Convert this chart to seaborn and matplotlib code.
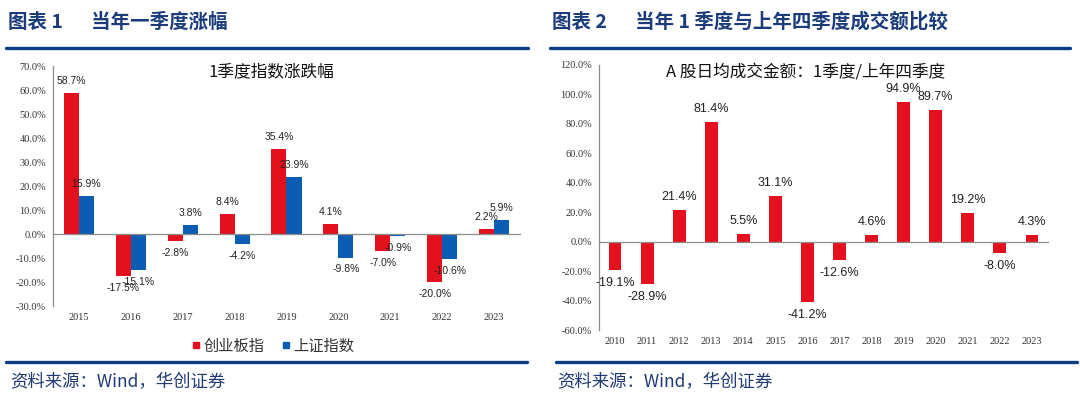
import matplotlib
matplotlib.use("Agg")
import matplotlib.pyplot as plt
import matplotlib.transforms as mtransforms
from matplotlib.lines import Line2D
from matplotlib.ticker import FuncFormatter
import numpy as np
import pandas as pd
import seaborn as sns

# 图表1: 当年一季度涨幅 (%)
years_left = ["2015", "2016", "2017", "2018", "2019", "2020", "2021", "2022", "2023"]
chinext = [58.7, -17.5, -2.8, 8.4, 35.4, 4.1, -7.0, -20.0, 2.2]
shanghai = [15.9, -15.1, 3.8, -4.2, 23.9, -9.8, -0.9, -10.6, 5.9]
series_names = ["创业板指", "上证指数"]

# 图表2: A股日均成交金额 1季度/上年四季度 (%)
years_right = ["2010", "2011", "2012", "2013", "2014", "2015", "2016",
               "2017", "2018", "2019", "2020", "2021", "2022", "2023"]
turnover_ratio = [-19.1, -28.9, 21.4, 81.4, 5.5, 31.1, -41.2,
                  -12.6, 4.6, 94.9, 89.7, 19.2, -8.0, 4.3]

RED = "#E3111D"
BLUE = "#0B5CB3"
NAVY = "#1a3c7c"
LINE = "#0c3c84"
W, H = 1080, 398

sns.set_theme(style="white")
plt.rcParams["font.family"] = ["Noto Sans CJK SC", "DejaVu Sans"]
plt.rcParams["axes.unicode_minus"] = False

fig = plt.figure(figsize=(W / 100, H / 100), dpi=100)


def px_axes(x0, y0, x1, y1):
    # pixel box (top-left origin) -> figure axes
    return fig.add_axes([x0 / W, 1 - y1 / H, (x1 - x0) / W, (y1 - y0) / H])


def style_axis(ax, cats, ylim, step, label_off):
    ax.set_ylim(*ylim)
    ax.set_xlim(-0.5, len(cats) - 0.5)
    ax.set_yticks(np.arange(ylim[0], ylim[1] + 0.1, step))
    ax.yaxis.set_major_formatter(FuncFormatter(lambda v, p: f"{v:.1f}%"))
    ax.set_xticks(np.arange(-0.5, len(cats), 1), labels=[""] * (len(cats) + 1))
    ax.set_xlabel("")
    ax.set_ylabel("")
    for s in ["top", "right"]:
        ax.spines[s].set_visible(False)
    ax.spines["bottom"].set_position(("data", 0))
    for s in ["left", "bottom"]:
        ax.spines[s].set_color("#8c8c8c")
        ax.spines[s].set_linewidth(0.9)
    ax.tick_params(axis="y", labelsize=7.5, length=3, width=0.8, direction="out",
                   color="#8c8c8c", labelcolor="#333333", pad=2,
                   labelfontfamily="Liberation Serif")
    ax.tick_params(axis="x", length=3, width=0.8, direction="out", color="#8c8c8c")
    trans = mtransforms.blended_transform_factory(ax.transData, ax.transAxes)
    for i, c in enumerate(cats):
        ax.text(i, label_off, c, transform=trans, ha="center", va="center",
                fontsize=7.5, family="Liberation Serif", color="#333333")
    ax.set_facecolor("none")


# ---- left chart ----
ax1 = px_axes(53, 66, 520, 306)
df_left = pd.DataFrame({
    "year": years_left * 2,
    "index": [series_names[0]] * len(years_left) + [series_names[1]] * len(years_left),
    "value": chinext + shanghai,
})
sns.barplot(data=df_left, x="year", y="value", hue="index", palette=[RED, BLUE],
            width=0.58, gap=0, saturation=1, linewidth=0, legend=False, ax=ax1)
style_axis(ax1, years_left, (-30, 70), 10, -12 / 240)
for cont in ax1.containers:
    ax1.bar_label(cont, labels=[f"{v:.1f}%" for v in cont.datavalues], padding=5,
                  fontsize=7.5, family="Liberation Sans", color="#222222")
handles = [Line2D([], [], marker="s", linestyle="none", markersize=5,
                  markerfacecolor=c, markeredgecolor=c) for c in (RED, BLUE)]
ax1.legend(handles, series_names, ncol=2, frameon=False, loc="center",
           bbox_to_anchor=(273 / W, 1 - 346 / H), bbox_transform=fig.transFigure,
           handlelength=0.6, handletextpad=0.2, columnspacing=1.1,
           prop={"size": 11}, labelcolor="#333333")
fig.text(271 / W, 1 - 72 / H, "1季度指数涨跌幅", ha="center", va="center",
         fontsize=12, color="#111111")

# ---- right chart ----
ax2 = px_axes(599, 65, 1048, 330)
sns.barplot(x=years_right, y=turnover_ratio, color=RED, width=0.4,
            saturation=1, linewidth=0, ax=ax2)
style_axis(ax2, years_right, (-60, 120), 20, -12 / 265)
for cont in ax2.containers:
    ax2.bar_label(cont, labels=[f"{v:.1f}%" for v in cont.datavalues], padding=5,
                  fontsize=9, family="Liberation Sans", color="#222222")
fig.text(806 / W, 1 - 72 / H, "A 股日均成交金额：1季度/上年四季度", ha="center",
         va="center", fontsize=12, color="#111111")

# ---- headers, rules and sources ----
fig.text(8 / W, 1 - 22 / H, "图表 1　  当年一季度涨幅", ha="left", va="center",
         fontsize=14, fontweight="bold", color=NAVY)
fig.text(552 / W, 1 - 22 / H, "图表 2　  当年 1 季度与上年四季度成交额比较", ha="left",
         va="center", fontsize=14, fontweight="bold", color=NAVY)
for x0, x1, y in [(6, 528, 48), (550, 1070, 48), (6, 527, 362), (556, 1077, 362)]:
    fig.add_artist(Line2D([x0 / W, x1 / W], [1 - y / H, 1 - y / H],
                          transform=fig.transFigure, color=LINE, linewidth=2.4))
for x in (10, 557):
    fig.text(x / W, 1 - 382 / H, "资料来源：Wind，华创证券", ha="left", va="center",
             fontsize=12.5, style="italic", color="#1f3a75")

fig.savefig("out.png", dpi=100)
